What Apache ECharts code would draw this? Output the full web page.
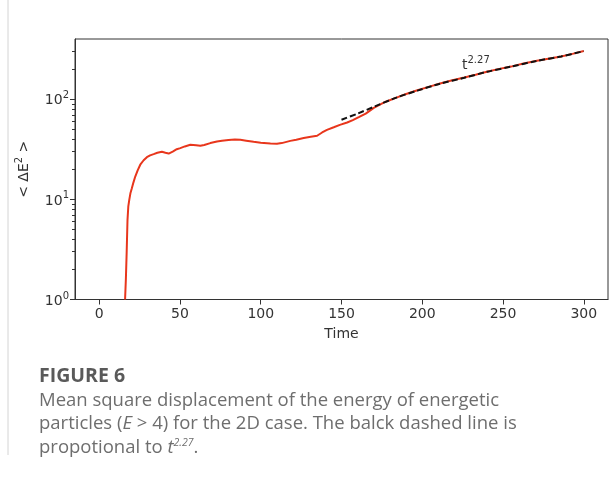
<!DOCTYPE html>
<html>
<head>
<meta charset="utf-8">
<script src="https://cdn.jsdelivr.net/npm/echarts@6/dist/echarts.min.js"></script>
<style>
html,body{margin:0;padding:0;background:#fff;}
#chart{width:615px;height:481px;}
</style>
</head>
<body>
<div id="chart"></div>
<script>
// ---- data ----
var timeRed = [16, 16.5, 17, 17.5, 18, 18.6, 19.3, 20.2, 21.2, 22.3, 23.8, 25.4, 27.5, 29.5, 31.5, 33.7, 36, 38.8, 41, 43, 45.5, 48, 50.2, 53, 56.4, 60, 62.6, 65, 68.8, 72.9, 76, 80, 84, 87.4, 91, 95.6, 100, 106, 110, 113, 118.3, 122, 126.6, 131, 134.9, 138, 141, 145.2, 149, 153.5, 157, 160.7, 165, 170, 177, 184, 190, 197, 204, 211, 218, 226, 233, 240, 247, 255, 262, 271, 278, 286, 293, 300];
var msdRed = [1.0, 1.6, 3.0, 6.2, 8.5, 9.9, 11.5, 12.9, 14.8, 16.9, 19.5, 22.2, 24.6, 26.4, 27.5, 28.3, 29.2, 29.9, 29.2, 28.7, 30.0, 31.7, 32.5, 33.8, 35.1, 34.8, 34.3, 35.0, 36.5, 37.8, 38.5, 39.2, 39.6, 39.4, 38.6, 37.6, 36.8, 36.1, 36.0, 36.5, 38.4, 39.5, 41.1, 42.2, 43.2, 46.6, 49.5, 52.5, 55.5, 58.6, 62, 66.4, 72, 82, 94, 104, 113, 123, 133, 144, 154, 165, 176, 188, 200, 212, 226, 242, 254, 268, 284, 303];
var timeFit = [150, 160, 170, 184, 197, 211, 226, 240, 255, 271, 286, 300];
var msdFit = [62.5, 72, 84, 104, 122, 143, 164, 188, 212, 242, 268, 303];
var xTicks = [0, 50, 100, 150, 200, 250, 300];
var yMajorTicks = [1, 10, 100];
var yMajorLabels = ['0', '1', '2'];
var yMinorTicks = [2, 3, 4, 5, 6, 7, 8, 9, 20, 30, 40, 50, 60, 70, 80, 90, 200, 300];

function pairs(xs, ys) { return xs.map(function (x, i) { return [x, ys[i]]; }); }

var chart = echarts.init(document.getElementById('chart'), null, {renderer: 'canvas'});
var axisColor = '#333';
var tickFont = 'DejaVu Sans';
var capFont = 'Open Sans';
var capColor = '#6e6e6e';
var capSize = 18.5;

var option = {
  backgroundColor: '#fff',
  animation: false,
  grid: {left: 75, right: 7, top: 39, bottom: 181.5, show: true, borderColor: axisColor, borderWidth: 1, backgroundColor: 'transparent'},
  xAxis: {
    type: 'value', min: -15, max: 315,
    name: 'Time', nameLocation: 'middle', nameGap: 28,
    nameTextStyle: {fontFamily: tickFont, fontSize: 14, color: '#333'},
    axisLine: {show: true, onZero: false, lineStyle: {color: axisColor, width: 1}},
    axisTick: {show: true, length: 5, customValues: xTicks, lineStyle: {color: axisColor, width: 1}},
    axisLabel: {customValues: xTicks, margin: 8, fontFamily: tickFont, fontSize: 14, color: '#333'},
    splitLine: {show: false}
  },
  yAxis: [{
    type: 'log', logBase: 10, min: 1, max: 400,
    name: '{b|< ΔE}{s|2}{b| >}', nameLocation: 'middle', nameGap: 44, nameRotate: 90,
    nameTextStyle: {rich: {
      b: {fontFamily: tickFont, fontSize: 14, color: '#333', verticalAlign: 'bottom', lineHeight: 17},
      s: {fontFamily: tickFont, fontSize: 10, color: '#333', verticalAlign: 'top', lineHeight: 17, padding: [0, 0, 5, 0]}
    }},
    axisLine: {show: true, onZero: false, lineStyle: {color: axisColor, width: 1}},
    axisTick: {show: true, length: 5, customValues: yMajorTicks, lineStyle: {color: axisColor, width: 1}},
    axisLabel: {
      customValues: yMajorTicks, margin: 6,
      formatter: function (v) {
        var i = yMajorTicks.indexOf(Math.round(v));
        return '{b|10}{s|' + (i >= 0 ? yMajorLabels[i] : '') + '}';
      },
      rich: {
        b: {fontFamily: tickFont, fontSize: 14, color: '#333', verticalAlign: 'bottom', lineHeight: 17},
        s: {fontFamily: tickFont, fontSize: 10, color: '#333', verticalAlign: 'top', lineHeight: 17, padding: [0, 0, 5, 0]}
      }
    },
    splitLine: {show: false}
  }, {
    type: 'log', logBase: 10, min: 1, max: 400, position: 'left',
    axisLine: {show: false, onZero: false},
    axisTick: {show: true, length: 3, customValues: yMinorTicks, lineStyle: {color: axisColor, width: 1}},
    axisLabel: {show: false},
    splitLine: {show: false}
  }],
  series: [{
    type: 'line', data: pairs(timeRed, msdRed), showSymbol: false, symbol: 'none',
    lineStyle: {color: '#e8361c', width: 2}, z: 2
  }, {
    type: 'line', data: pairs(timeFit, msdFit), showSymbol: false, symbol: 'none', smooth: 0.3,
    lineStyle: {color: '#111', width: 2, type: [6, 3]}, z: 3
  }],
  graphic: [
    {type: 'line', shape: {x1: 8, y1: 0, x2: 8, y2: 455}, style: {stroke: '#d4d4d4', lineWidth: 1}},
    {type: 'text', left: 462, top: 55, style: {
      text: '{b|t}{s|2.27}',
      rich: {
        b: {fontFamily: tickFont, fontSize: 14, fill: '#333', verticalAlign: 'bottom', lineHeight: 17},
        s: {fontFamily: tickFont, fontSize: 10, fill: '#333', verticalAlign: 'top', lineHeight: 17, padding: [0, 0, 5, 0]}
      }
    }},
    {type: 'text', left: 39, top: 366, style: {text: 'FIGURE 6', font: 'bold 19.5px "' + capFont + '"', fill: '#5a5a5a'}},
    {type: 'text', left: 39, top: 391, style: {text: 'Mean square displacement of the energy of energetic', font: capSize + 'px "' + capFont + '"', fill: capColor}},
    {type: 'text', left: 39, top: 414, style: {
      text: '{a|particles (}{i|E}{a| > 4) for the 2D case. The balck dashed line is}',
      rich: {a: {fontFamily: capFont, fontSize: capSize, fill: capColor}, i: {fontFamily: capFont, fontStyle: 'italic', fontSize: capSize, fill: capColor}}
    }},
    {type: 'text', left: 39, top: 434, style: {
      text: '{a|propotional to }{i|t}{s|2.27}{a|.}',
      rich: {
        a: {fontFamily: capFont, fontSize: capSize, fill: capColor, verticalAlign: 'bottom', lineHeight: 23},
        i: {fontFamily: capFont, fontStyle: 'italic', fontSize: capSize, fill: capColor, verticalAlign: 'bottom', lineHeight: 23},
        s: {fontFamily: capFont, fontStyle: 'italic', fontSize: 10.5, fill: capColor, verticalAlign: 'top', lineHeight: 23, padding: [4, 0, 0, 0]}
      }
    }}
  ]
};
chart.setOption(option);
</script>
</body>
</html>
